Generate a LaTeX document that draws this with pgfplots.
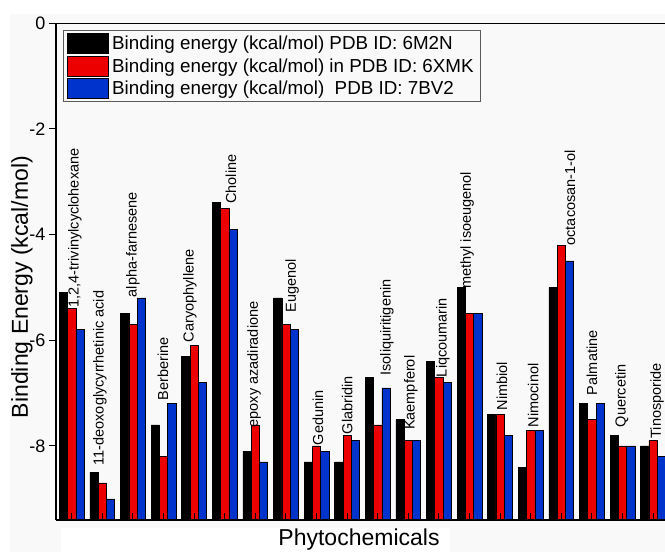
\documentclass[border=0pt]{standalone}
\usepackage{pgfplots}
\pgfplotsset{compat=1.18}
\usepackage{fontspec}
\setmainfont{Liberation Sans}
\definecolor{bgc}{RGB}{249,249,249}
\definecolor{bred}{RGB}{236,0,0}
\definecolor{bblue}{RGB}{0,51,204}
\definecolor{lgray}{RGB}{90,90,90}
\pgfplotsset{mylegend/.style={legend image code/.code={\draw[##1, draw=black, line width=0.8pt] (0pt,-10pt) rectangle (41pt,10pt);}}}
\begin{document}
\begin{tikzpicture}
\useasboundingbox (0pt,0pt) rectangle (665pt,552pt);
\fill[white] (0pt,0pt) rectangle (665pt,552pt);
\fill[bgc] (10pt,0pt) rectangle (665pt,538pt);
\fill[white] (61pt,0pt) rectangle (450pt,24pt);
\begin{axis}[
  at={(56pt,32pt)}, anchor=south west,
  scale only axis, width=609pt, height=497pt,
  xmin=-0.516, xmax=19.39, ymin=0, ymax=9.4,
  y filter/.expression={y+9.4},
  axis lines*=left,
  axis line style={-, line width=1.4pt, black},
  axis on top,
  ybar, bar width=0.27,
  xtick={0,...,19}, xticklabels={},
  xtick align=inside,
  ytick={1.4,3.4,5.4,7.4,9.4}, yticklabels={-8,-6,-4,-2,0},
  ytick align=outside,
  major tick length=7pt,
  tick style={black, line width=1pt},
  yticklabel style={font=\fontsize{18}{21}\selectfont},
  legend style={at={(0.0115,0.986)}, anchor=north west, draw=lgray, line width=0.8pt,
    fill=bgc, inner xsep=4pt, inner ysep=3pt,
    row sep=1.5pt, nodes={inner xsep=3pt, inner ysep=1.5pt, font=\fontsize{18.8}{21}\selectfont}},
  legend cell align=left,
]
\addplot[fill=black, draw=black, line width=0.6pt, bar shift=-0.27, mylegend] coordinates {
(0,-5.1)(1,-8.5)(2,-5.5)(3,-7.6)(4,-6.3)(5,-3.4)(6,-8.1)(7,-5.2)(8,-8.3)(9,-8.3)
(10,-6.7)(11,-7.5)(12,-6.4)(13,-5.0)(14,-7.4)(15,-8.4)(16,-5.0)(17,-7.2)(18,-7.8)(19,-8.0)};
\addplot[fill=bred, draw=black, line width=0.6pt, bar shift=0, mylegend] coordinates {
(0,-5.4)(1,-8.7)(2,-5.7)(3,-8.2)(4,-6.1)(5,-3.5)(6,-7.6)(7,-5.7)(8,-8.0)(9,-7.8)
(10,-7.6)(11,-7.9)(12,-6.7)(13,-5.5)(14,-7.4)(15,-7.7)(16,-4.2)(17,-7.5)(18,-8.0)(19,-7.9)};
\addplot[fill=bblue, draw=black, line width=0.6pt, bar shift=0.27, mylegend] coordinates {
(0,-5.8)(1,-9.0)(2,-5.2)(3,-7.2)(4,-6.8)(5,-3.9)(6,-8.3)(7,-5.8)(8,-8.1)(9,-7.9)
(10,-6.9)(11,-7.9)(12,-6.8)(13,-5.5)(14,-7.8)(15,-7.7)(16,-4.5)(17,-7.2)(18,-8.0)(19,-8.2)};
\legend{Binding energy (kcal/mol) PDB ID: 6M2N,
        Binding energy (kcal/mol) in PDB ID: 6XMK\hspace{6pt},
        Binding energy (kcal/mol)~ PDB ID: 7BV2}
\draw[line width=1.4pt, black] (rel axis cs:0,1) -- (rel axis cs:1,1);
\tikzset{bl/.style={rotate=90, anchor=west, inner sep=0pt, font=\fontsize{14.5}{17}\selectfont}}
\node[bl] at (axis cs:0.105,4.02) {1,2,4-trivinylcyclohexane};
\node[bl] at (axis cs:0.92,1.03) {11-deoxoglycyrrhetinic acid};
\node[bl] at (axis cs:2.0,4.21) {alpha-farnesene};
\node[bl] at (axis cs:2.98,2.26) {Berberine};
\node[bl] at (axis cs:3.86,3.36) {Caryophyllene};
\node[bl] at (axis cs:5.2,5.98) {Choline};
\node[bl] at (axis cs:5.96,1.75) {epoxy azadiradione};
\node[bl] at (axis cs:7.2,3.93) {Eugenol};
\node[bl] at (axis cs:8.05,1.41) {Gedunin};
\node[bl] at (axis cs:9.0,1.62) {Glabridin};
\node[bl] at (axis cs:10.3,2.73) {Isoliquiritigenin};
\node[bl] at (axis cs:11.08,1.70) {Kaempferol};
\node[bl] at (axis cs:12.13,2.70) {Liqcoumarin};
\node[bl] at (axis cs:12.92,4.37) {methyl isoeugenol};
\node[bl] at (axis cs:14.06,2.07) {Nimbiol};
\node[bl] at (axis cs:15.08,1.75) {Nimocinol};
\node[bl] at (axis cs:16.28,5.19) {octacosan-1-ol};
\node[bl] at (axis cs:17.0,2.36) {Palmatine};
\node[bl] at (axis cs:17.98,1.75) {Quercetin};
\node[bl] at (axis cs:19.13,1.54) {Tinosporide};
\end{axis}
\node[rotate=90, font=\fontsize{23}{26}\selectfont] at (22pt,265pt) {Binding Energy (kcal/mol)};
\node[font=\fontsize{23}{26}\selectfont] at (359pt,12pt) {Phytochemicals};
\end{tikzpicture}
\end{document}
